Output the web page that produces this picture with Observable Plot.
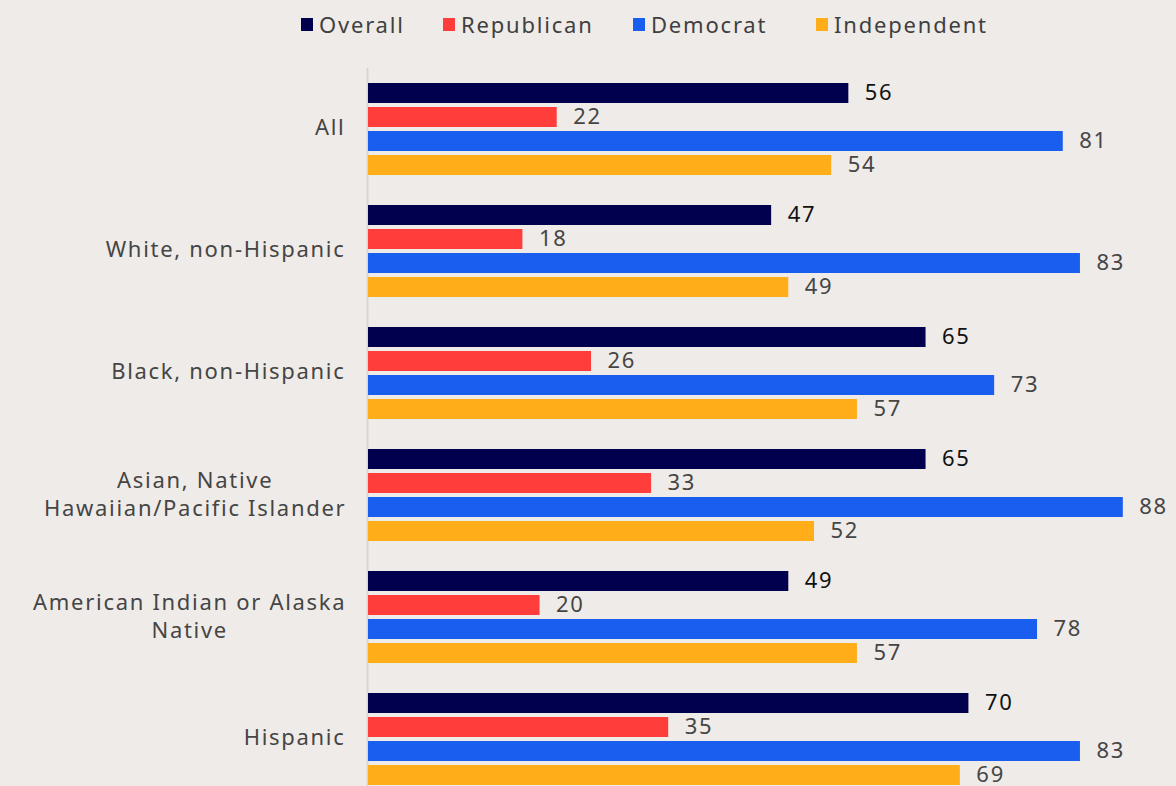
<!DOCTYPE html>
<html>
<head>
<meta charset="utf-8">
<script src="https://cdn.jsdelivr.net/npm/d3@7"></script>
<script src="https://cdn.jsdelivr.net/npm/@observablehq/plot@0.6"></script>
<style>
  html, body { margin:0; padding:0; background:#efebe8; overflow:hidden; }
  body { width:1176px; height:786px; font-family: "Noto Sans", sans-serif; }
  #legend { position:relative; height:60px; }
  .item { position:absolute; top:8px; height:32px; display:flex; align-items:center; font-size:22px; color:#404040; letter-spacing:1.8px; }
  .sw { width:12px; height:13px; margin-right:6px; }
  #chart svg { display:block; }
  #chart svg text { letter-spacing:1.7px; }
  #measure { position:absolute; visibility:hidden; white-space:pre; font-family:"Noto Sans", sans-serif; font-size:22px; letter-spacing:1.7px; }
</style>
</head>
<body>
<div id="legend"></div>
<div id="chart"></div>
<span id="measure"></span>
<script>
const groups = ["All", "White, non-Hispanic", "Black, non-Hispanic", "Asian, Native\nHawaiian/Pacific Islander", "American Indian or Alaska\nNative", "Hispanic"];
const series = ["Overall", "Republican", "Democrat", "Independent"];
const colors = ["#00004f", "#ff3d3a", "#1a5ef0", "#ffad19"];
const overall = [56, 47, 65, 65, 49, 70];
const republican = [22, 18, 26, 33, 20, 35];
const democrat = [81, 83, 73, 88, 78, 83];
const independent = [54, 49, 57, 52, 57, 69];

const valuesBySeries = [overall, republican, democrat, independent];
const data = [];
groups.forEach((g, i) => series.forEach((s, j) => data.push({group: g, series: s, value: valuesBySeries[j][i]})));

// legend
const legendX = [301, 443, 633, 816];
const legend = document.getElementById("legend");
series.forEach((s, j) => {
  const it = document.createElement("div");
  it.className = "item";
  it.style.left = legendX[j] + "px";
  it.innerHTML = `<div class="sw" style="background:${colors[j]}"></div><span>${s}</span>`;
  legend.appendChild(it);
});

// measure widest line of a label (for centered multi-line labels)
const meas = document.getElementById("measure");
function widest(label) {
  return Math.max(...label.split("\n").map(l => { meas.textContent = l; return meas.getBoundingClientRect().width - 1.7; }));
}

const labelPad = 23;
const singleLabels = groups.filter(g => !g.includes("\n"));
const multiLabels = groups.filter(g => g.includes("\n"));

const chart = Plot.plot({
  width: 1176,
  height: 740,
  marginLeft: 368,
  marginRight: 0,
  marginTop: 8,
  marginBottom: 0,
  style: {background: "transparent", fontFamily: "Noto Sans, sans-serif"},
  x: {domain: [0, 94.2], axis: null},
  y: {domain: series, axis: null, paddingInner: 0.18, paddingOuter: 0.59},
  fy: {domain: groups, axis: null, padding: 0},
  color: {domain: series, range: colors},
  marks: [
    Plot.ruleX([0], {stroke: "#d8d4d1", strokeWidth: 2, dx: -1}),
    Plot.barX(data, {x: "value", y: "series", fy: "group", fill: "series"}),
    Plot.text(data, {x: "value", y: "series", fy: "group", text: d => String(d.value), dx: 16, dy: -1, textAnchor: "start", fontSize: 22, fill: d => d.series === "Overall" ? "#111111" : "#454545"}),
    Plot.text(singleLabels, {fy: d => d, text: d => d, frameAnchor: "left", dx: -labelPad, dy: -2, textAnchor: "end", fontSize: 22, fill: "#454545"}),
    ...multiLabels.map(g => Plot.text([g], {fy: d => d, text: d => d, frameAnchor: "left", dx: -labelPad - widest(g) / 2, dy: -2, textAnchor: "middle", fontSize: 22, lineHeight: 1.27, fill: "#454545"}))
  ]
});
document.getElementById("chart").appendChild(chart);
</script>
</body>
</html>
